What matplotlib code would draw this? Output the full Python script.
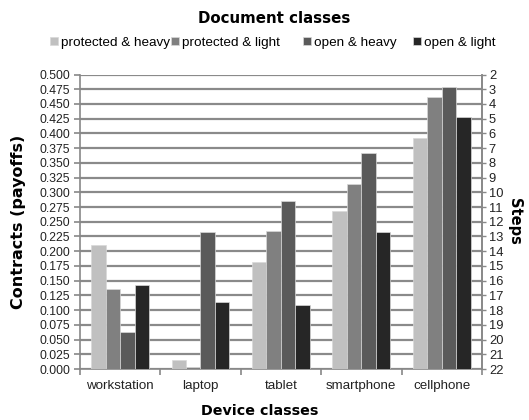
import matplotlib
matplotlib.use("Agg")
import matplotlib.pyplot as plt
import numpy as np

categories = ["workstation", "laptop", "tablet", "smartphone", "cellphone"]
series_names = ["protected & heavy", "protected & light", "open & heavy", "open & light"]
protected_heavy = [0.210, 0.016, 0.182, 0.268, 0.392]
protected_light = [0.135, 0.004, 0.234, 0.314, 0.462]
open_heavy = [0.063, 0.233, 0.285, 0.366, 0.479]
open_light = [0.143, 0.113, 0.109, 0.233, 0.428]
left_ticks = [i * 0.025 for i in range(21)]
right_ticks = list(range(2, 23))

colors = ["#c0c0c0", "#808080", "#5a5a5a", "#262626"]
series = [protected_heavy, protected_light, open_heavy, open_light]

plt.rcParams['font.family'] = ['Liberation Sans', 'DejaVu Sans']
fig = plt.figure(figsize=(5.29, 4.20), dpi=100)
ax = fig.add_axes([0.151, 0.1214, 0.760, 0.7012])

x = np.arange(len(categories))
bw = 0.18
handles = []
for i, (vals, c) in enumerate(zip(series, colors)):
    b = ax.bar(x + (i - 1.5) * bw, vals, width=bw, color=c, edgecolor="#d8d8d8",
               linewidth=0.5, label=series_names[i], zorder=3)
    handles.append(b)

ax.set_xlim(-0.5, len(categories) - 0.5)
ax.set_ylim(0, 0.5)
ax.set_yticks(left_ticks)
ax.set_yticklabels([f"{v:.3f}" for v in left_ticks], fontsize=8.8, color="#222222")
ax.set_xticks(x)
ax.set_xticklabels(categories, fontsize=9.6, color="#222222")
ax.set_xticks(np.arange(len(categories) + 1) - 0.5, minor=True)
ax.tick_params(axis='x', which='major', length=0, pad=8)
ax.tick_params(axis='x', which='minor', length=4, color="#888888", width=1.2)
ax.tick_params(axis='y', length=4, color="#888888", width=1.2, pad=3)
ax.yaxis.grid(True, color="#8a8a8a", linewidth=1.6, zorder=0)
ax.set_axisbelow(True)
ax.spines["top"].set_visible(False)
for s in ["left", "bottom", "right"]:
    ax.spines[s].set_color("#888888")
    ax.spines[s].set_linewidth(1.2)

ax2 = ax.twinx()
ax2.set_ylim(22, 2)
ax2.set_yticks(right_ticks)
ax2.set_yticklabels([str(t) for t in right_ticks], fontsize=9.3, color="#222222")
ax2.tick_params(axis='y', length=3, color="#888888", width=1.0, pad=2)
for s in ["top", "left", "bottom"]:
    ax2.spines[s].set_visible(False)
ax2.spines["right"].set_color("#888888")
ax2.spines["right"].set_linewidth(1.2)

ax.set_ylabel("Contracts (payoffs)", fontsize=11.5, fontweight="bold", family="DejaVu Sans")
ax.yaxis.set_label_coords(-0.135, 0.5)
ax2.set_ylabel("Steps", fontsize=10.5, fontweight="bold", family="DejaVu Sans", rotation=270)
ax2.yaxis.set_label_coords(1.10, 0.5)
ax.set_xlabel("Device classes", fontsize=10.3, fontweight="bold", family="DejaVu Sans")
ax.xaxis.set_label_coords(0.448, -0.12)

fig.text(0.519, 0.957, "Document classes", ha="center", va="center", fontsize=10.8,
         fontweight="bold", family="DejaVu Sans")

legend_x = [0.0945, 0.323, 0.573, 0.781]
for hnd, lab, lx in zip(handles, series_names, legend_x):
    lg = fig.legend([hnd], [lab], loc="center left", bbox_to_anchor=(lx, 0.898),
                    frameon=False, fontsize=9.7, handlelength=0.6, handleheight=0.6,
                    handletextpad=0.2, borderpad=0, borderaxespad=0)

fig.savefig("out.png", dpi=100)
